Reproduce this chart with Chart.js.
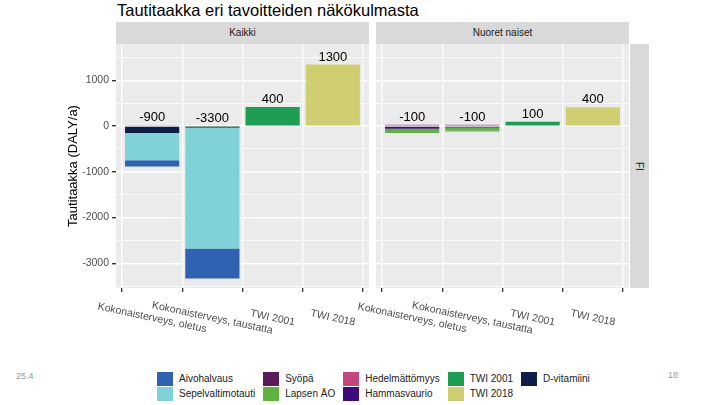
<!DOCTYPE html>
<html>
<head>
<meta charset="utf-8">
<script src="https://cdn.jsdelivr.net/npm/chart.js@4/dist/chart.umd.min.js"></script>
<style>
  body { margin: 0; width: 720px; height: 405px; background: #fff; position: relative; overflow: hidden;
         font-family: "Liberation Sans", Arial, sans-serif; }
  .abs { position: absolute; }
  #title { left: 117px; top: 0px; font-size: 16.5px; line-height: 20px; color: #000; }
  .strip { background: #D9D9D9; color: #1A1A1A; font-size: 10px; text-align: center; }
  #stripA { left: 116px; top: 22px; width: 253px; height: 22px; line-height: 22px; }
  #stripB { left: 376px; top: 22px; width: 253px; height: 22px; line-height: 22px; }
  #stripFI { left: 630px; top: 44px; width: 19px; height: 244px; writing-mode: vertical-rl;
             line-height: 19px; }
  #c1 { left: 0px; top: 34px; }
  #c2 { left: 300px; top: 34px; }
  #legend { left: 157px; top: 371px; display: grid; grid-template-rows: 15px 15px; grid-auto-flow: column;
            column-gap: 8px; font-size: 10px; color: #222; }
  .item { display: flex; align-items: center; height: 15px; }
  .key { width: 16px; height: 14px; margin-right: 6px; }
  .foot { font-size: 9px; color: #9a9a9a; }
</style>
</head>
<body>
<div id="title" class="abs">Tautitaakka eri tavoitteiden näkökulmasta</div>
<div id="stripA" class="abs strip">Kaikki</div>
<div id="stripB" class="abs strip">Nuoret naiset</div>
<div id="stripFI" class="abs strip">FI</div>
<canvas id="c1" class="abs" width="372" height="310"></canvas>
<canvas id="c2" class="abs" width="332" height="310"></canvas>
<div id="legend" class="abs"></div>
<div class="abs foot" style="left:16px;top:371px">25.4</div>
<div class="abs foot" style="left:668px;top:370px">18</div>
<script>
// data
const categories = ['Kokonaisterveys, oletus', 'Kokonaisterveys, taustatta', 'TWI 2001', 'TWI 2018']
const causes = ['Aivohalvaus', 'Sepelvaltimotauti', 'Syöpä', 'Lapsen ÄO', 'Hedelmättömyys',
                'Hammasvaurio', 'TWI 2001', 'TWI 2018', 'D-vitamiini']
const colors = ['#2F62B0', '#7FD2D8', '#5A1A5C', '#5DB33C', '#C4467E',
                '#3D0C7C', '#1E9E52', '#CFCF72', '#0E1D48']

// one row per cause (same order as causes), one column per category
const kaikkiValues = [
  [-140, -655, 0, 0],
  [-595, -2635, 0, 0],
  [0, -15, 0, 0],
  [0, -15, 0, 0],
  [20, 0, 0, 0],
  [0, -10, 0, 0],
  [0, 0, 415, 0],
  [0, 0, 0, 1345],
  [-150, 0, 0, 0]
]
const nuoretValues = [
  [0, 0, 0, 0],
  [0, -30, 0, 0],
  [0, 0, 0, 0],
  [-90, -70, 0, 0],
  [30, 30, 0, 0],
  [-60, -30, 0, 0],
  [0, 0, 95, 0],
  [0, 0, 0, 410],
  [0, 0, 0, 0]
]
const kaikkiLabels = ['-900', '-3300', '400', '1300']
const nuoretLabels = ['-100', '-100', '100', '400']

const yTicks = [-3500, -3000, -2500, -2000, -1500, -1000, -500, 0, 500, 1000, 1500]
const yMin = -3540
const yMax = 1795

const FONT = '"Liberation Sans", Arial, sans-serif'

// grey panel background
const panelBg = {
  id: 'panelBg',
  beforeDraw(chart) {
    const { ctx, chartArea: a } = chart
    ctx.save()
    ctx.fillStyle = '#EBEBEB'
    ctx.fillRect(a.left, a.top, a.right - a.left, a.bottom - a.top)
    ctx.restore()
  }
}

// totals above the bars
const barLabels = {
  id: 'barLabels',
  afterDatasetsDraw(chart, args, opts) {
    const { ctx } = chart
    const xs = chart.scales.x, ys = chart.scales.y
    ctx.save()
    ctx.font = '13px ' + FONT
    ctx.fillStyle = '#000'
    ctx.textAlign = 'center'
    ctx.textBaseline = 'alphabetic'
    opts.labels.forEach((t, j) => {
      let pos = 0
      chart.data.datasets.forEach(d => { if (d.data[j].y > 0) pos += d.data[j].y })
      ctx.fillText(t, xs.getPixelForValue(j), ys.getPixelForValue(pos) - 4)
    })
    ctx.restore()
  }
}

// slanted category labels
const xLabels = {
  id: 'xLabels',
  afterDraw(chart) {
    const { ctx, chartArea: a } = chart
    ctx.save()
    ctx.font = '10.5px ' + FONT
    ctx.fillStyle = '#4D4D4D'
    ctx.textAlign = 'center'
    ctx.textBaseline = 'middle'
    categories.forEach((c, j) => {
      ctx.save()
      ctx.translate(chart.scales.x.getPixelForValue(j), a.bottom + 30)
      ctx.rotate(12 * Math.PI / 180)
      ctx.fillText(c, 0, 0)
      ctx.restore()
    })
    ctx.restore()
  }
}

function makePanel(id, values, labels, showY, padLeft) {
  const order = causes.map((c, i) => i).reverse()
  const datasets = order.map(i => ({
    label: causes[i],
    data: values[i].map((v, j) => ({ x: j, y: v })),
    backgroundColor: colors[i],
    borderWidth: 0,
    categoryPercentage: 1,
    barPercentage: 0.9
  }))
  const isMajor = c => c.tick && c.tick.value % 1000 === 0
  return new Chart(document.getElementById(id), {
    type: 'bar',
    data: { datasets },
    options: {
      responsive: false,
      animation: false,
      events: [],
      layout: { padding: { left: padLeft, right: 3, top: 10, bottom: 0 } },
      plugins: { legend: { display: false }, tooltip: { enabled: false }, barLabels: { labels } },
      scales: {
        x: {
          type: 'linear', stacked: true, min: -0.6, max: 3.6, offset: false,
          afterBuildTicks: s => { s.ticks = categories.map((c, j) => ({ value: j })) },
          afterFit: s => { s.height = 56 },
          ticks: { display: false },
          grid: { color: '#fff', lineWidth: 1.3, tickLength: 4, tickColor: '#333' },
          border: { display: false }
        },
        y: {
          stacked: true, min: yMin, max: yMax,
          afterBuildTicks: s => { s.ticks = yTicks.map(v => ({ value: v })) },
          afterFit: s => { s.width = showY ? 54 : 0 },
          ticks: {
            display: showY, padding: 3, color: '#4D4D4D', font: { size: 10.5, family: FONT },
            callback: v => v % 1000 === 0 ? String(v) : ''
          },
          grid: {
            color: '#fff',
            lineWidth: c => isMajor(c) ? 1.4 : 0.7,
            drawTicks: showY, tickLength: 4,
            tickColor: c => isMajor(c) ? '#333' : 'rgba(0,0,0,0)'
          },
          border: { display: false },
          title: { display: showY, text: 'Tautitaakka (DALY/a)', color: '#000', font: { size: 13, family: FONT } }
        }
      }
    },
    plugins: [panelBg, barLabels, xLabels]
  })
}

makePanel('c1', kaikkiValues, kaikkiLabels, true, 62)
makePanel('c2', nuoretValues, nuoretLabels, false, 76)

// legend, filled column by column in two rows
const legend = document.getElementById('legend')
causes.forEach((c, i) => {
  const item = document.createElement('div')
  item.className = 'item'
  item.innerHTML = '<span class="key" style="background:' + colors[i] + '"></span><span>' + c + '</span>'
  legend.appendChild(item)
})
</script>
</body>
</html>
